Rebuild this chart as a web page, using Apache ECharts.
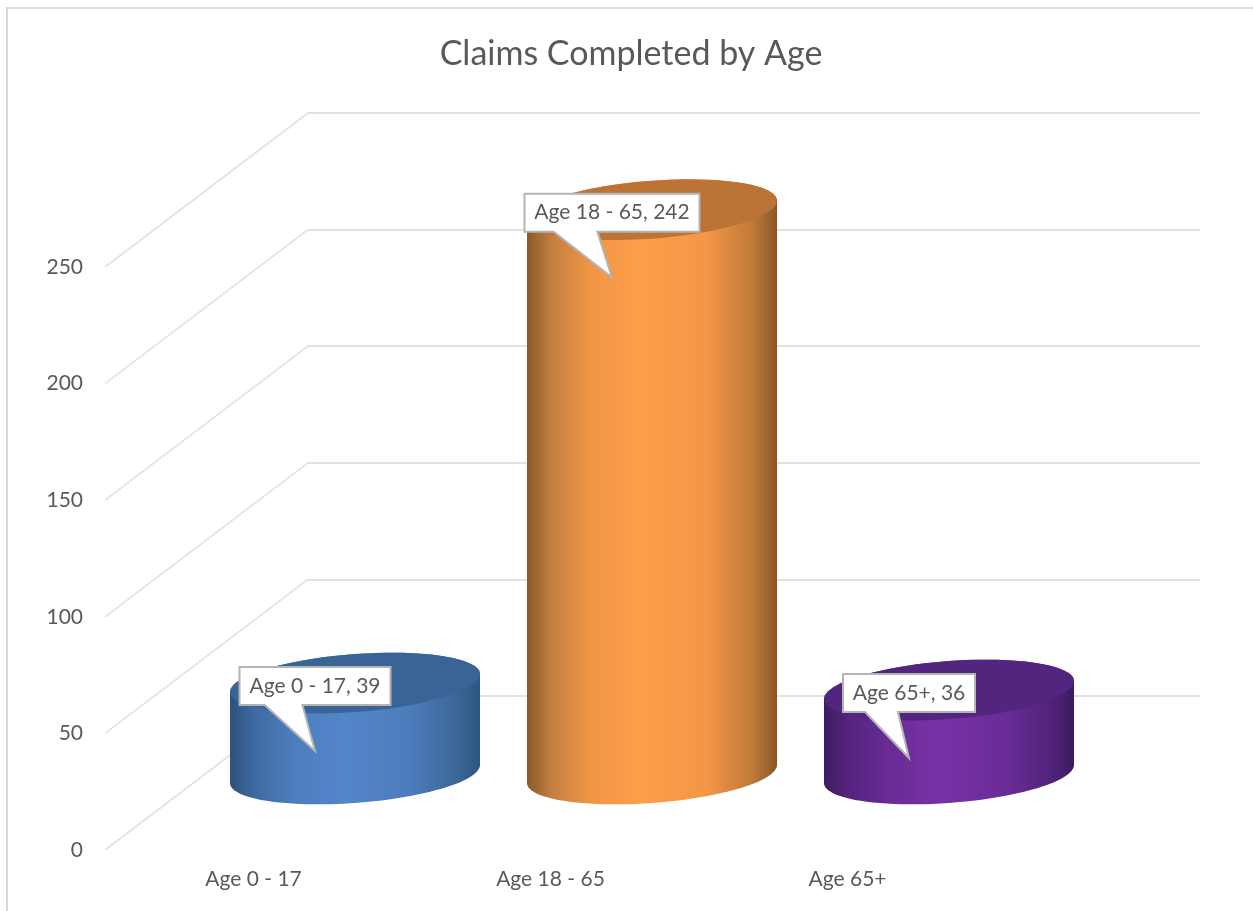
<!DOCTYPE html>
<html>
<head>
<meta charset="utf-8">
<title>Claims Completed by Age</title>
<script src="https://cdn.jsdelivr.net/npm/echarts@6/dist/echarts.min.js"></script>
<style>
    html, body { margin: 0; padding: 0; background: #fff; }
    #chartbox { width: 1253px; height: 911px; }
</style>
</head>
<body>
<div id="chartbox"></div>
<script>
var categories = ["Age 0 - 17", "Age 18 - 65", "Age 65+"];
var claims = [39, 242, 36];
var yTicks = [0, 50, 100, 150, 200, 250];

var fontName = "Lato";
var textColor = "#595959";
var lineColor = "#e2e2e2";
var labelSize = 21;

// front edge of the floor, labels hang off this one
var frontGrid = { left: 105, top: 267, width: 891, height: 583 };
// back wall, same scale pushed back
var backGrid = { left: 308, top: 113, width: 892, height: 583 };
var depthX = backGrid.left - frontGrid.left;
var depthY = backGrid.top - frontGrid.top;

var shadeOffsets = [0, 0.1, 0.25, 0.45, 0.72, 0.9, 1];
var barColors = [
    { side: ["#2e5078", "#3f6ba3", "#4c7dbd", "#5385c9", "#4c7cbb", "#3c6899", "#2f5580"], top: "#3a6496" },
    { side: ["#8a5a2c", "#c47f3f", "#ef9546", "#ff9e48", "#f29647", "#c07a38", "#8a5628"], top: "#bb7436" },
    { side: ["#3c1d60", "#55247f", "#672b92", "#7832a8", "#6a2c98", "#53237c", "#3b1b5e"], top: "#52267f" }
];

var measure = document.createElement("canvas").getContext("2d");

function ellipsePoints(cx, cy, from, to) {
    var pts = [];
    var steps = 48;
    for (var i = 0; i <= steps; i++) {
        var t = from + (to - from) * i / steps;
        pts.push([cx + 125 * Math.cos(t), cy - 9 * Math.cos(t) + 29 * Math.sin(t)]);
    }
    return pts;
}

function renderWall(params, api) {
    var front = api.coord([0, api.value(1)]);
    var x = params.coordSys.x;
    return {
        type: "line",
        shape: { x1: x, y1: front[1], x2: x + depthX, y2: front[1] + depthY },
        style: { stroke: lineColor, lineWidth: 1.6 }
    };
}

function renderCylinder(params, api) {
    var i = api.value(0);
    var value = api.value(1);
    var base = api.coord([i, 0]);
    var top = api.coord([i, value]);
    var cx = base[0] + depthX / 2;
    var baseY = base[1] + depthY / 2 + 1;
    var topY = top[1] + depthY / 2 + 1;
    var colors = barColors[i];
    var stops = colors.side.map(function (c, n) {
        return { offset: shadeOffsets[n], color: c };
    });

    var side = ellipsePoints(cx, baseY, 0, Math.PI).concat(ellipsePoints(cx, topY, Math.PI, Math.PI * 2));

    // callout sits on the top of the bar, tail points down into it
    var text = categories[i] + ", " + value;
    var font = labelSize + "px " + fontName;
    measure.font = font;
    var w = Math.round(measure.measureText(text).width) + 20;
    var tipX = cx - 40;
    var tipY = topY + 68;
    var l = tipX - w / 2;
    var r = tipX + w / 2;
    var t = topY - 16;
    var b = t + 38;
    var callout = [[l, t], [r, t], [r, b], [l + w * 0.4167, b], [tipX, tipY], [l + w * 0.1667, b], [l, b]];

    return {
        type: "group",
        children: [
            {
                type: "polygon",
                shape: { points: side },
                style: { fill: new echarts.graphic.LinearGradient(0, 0, 1, 0, stops) }
            },
            {
                type: "polygon",
                shape: { points: ellipsePoints(cx, topY, 0, Math.PI * 2) },
                style: { fill: colors.top }
            },
            {
                type: "polygon",
                shape: { points: callout },
                style: { fill: "#ffffff", stroke: "#b4b4b4", lineWidth: 2 }
            },
            {
                type: "text",
                style: {
                    x: tipX, y: (t + b) / 2, text: text, fill: textColor,
                    font: font, align: "center", verticalAlign: "middle"
                }
            }
        ]
    };
}

var myChart = echarts.init(document.getElementById("chartbox"), null, { renderer: "canvas" });
var option = {
    animation: false,
    backgroundColor: "#ffffff",
    title: {
        text: "Claims Completed by Age",
        left: 626,
        top: 32,
        textAlign: "center",
        textStyle: { fontFamily: fontName, fontSize: 34, fontWeight: "normal", color: textColor }
    },
    graphic: [
        {
            // only top and left edges fall inside the picture
            type: "rect",
            silent: true,
            shape: { x: 7, y: 8, width: 1290, height: 960 },
            style: { fill: "none", stroke: "#d9d9d9", lineWidth: 2 }
        }
    ],
    grid: [frontGrid, backGrid],
    xAxis: [
        {
            gridIndex: 0,
            type: "category",
            data: categories,
            axisLine: { show: false },
            axisTick: { show: false },
            axisLabel: { fontFamily: fontName, fontSize: labelSize, color: textColor, margin: 19 }
        },
        { gridIndex: 1, type: "value", show: false }
    ],
    yAxis: [
        {
            gridIndex: 0,
            type: "value",
            min: 0,
            max: 250,
            interval: 50,
            axisLine: { show: false },
            axisTick: { show: false },
            splitLine: { show: false },
            axisLabel: { fontFamily: fontName, fontSize: labelSize, color: textColor, margin: 22 }
        },
        {
            gridIndex: 1,
            type: "value",
            min: 0,
            max: 250,
            interval: 50,
            axisLine: { show: false },
            axisTick: { show: false },
            axisLabel: { show: false },
            splitLine: { show: true, lineStyle: { color: lineColor, width: 2 } }
        }
    ],
    series: [
        {
            type: "custom",
            name: "walls",
            xAxisIndex: 0,
            yAxisIndex: 0,
            silent: true,
            z: 1,
            renderItem: renderWall,
            data: yTicks.map(function (v) { return [0, v]; })
        },
        {
            type: "custom",
            name: "Claims",
            xAxisIndex: 0,
            yAxisIndex: 0,
            z: 3,
            renderItem: renderCylinder,
            encode: { x: 0, y: 1 },
            data: claims.map(function (v, i) { return [i, v]; })
        }
    ]
};
option && myChart.setOption(option);
window.addEventListener("resize", function () {
    myChart.resize();
});
</script>
</body>
</html>
